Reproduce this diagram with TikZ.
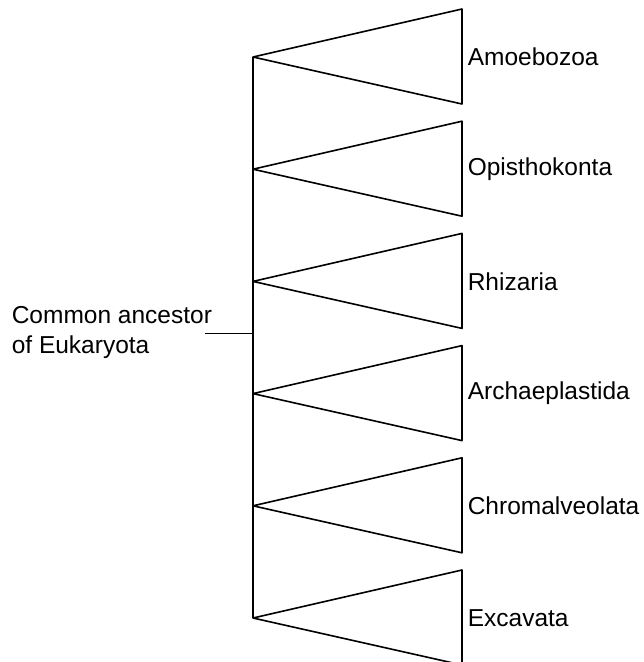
\documentclass[tikz,border=0pt]{standalone}
\usepackage{fontspec}
\setmainfont{Liberation Sans}
\usetikzlibrary{positioning}

\begin{document}
\begin{tikzpicture}[x=1pt,y=-1pt,line width=1.6pt,line join=round,
  clade/.style={font=\fontsize{24.5}{30}\selectfont,anchor=west,inner sep=0pt}]
  \useasboundingbox (0,0) rectangle (644,662);
  % the six groups, one wedge each
  \foreach \nm [count=\i from 0] in {Amoebozoa,Opisthokonta,Rhizaria,Archaeplastida,Chromalveolata,Excavata} {
    \coordinate (a\i) at (253,57+112.2*\i);
    \draw (a\i) -- ++(209,-48) -- ++(0,95) -- cycle;
    \node[clade] (g\i) at (467,57+112.2*\i) {\nm};
  }
  % backbone
  \draw (a0) -- (a5);
  % root
  \node[clade,align=left] (root) at (11,332) {Common ancestor\\of Eukaryota};
  \coordinate (stem) at (205,333.5);
  \draw (stem) -- (stem -| a0);
\end{tikzpicture}
\end{document}
